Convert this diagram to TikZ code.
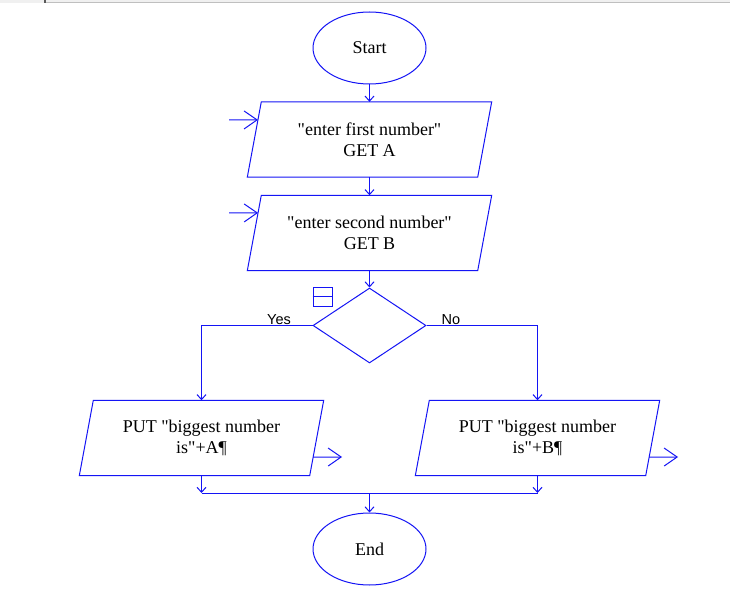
\documentclass[tikz,border=0pt]{standalone}
\usepackage{fontspec}
\setmainfont{Liberation Serif}
\newfontfamily\boxfont{Liberation Serif}
\newfontfamily\lblfont{Liberation Sans}
\usetikzlibrary{shapes.geometric,arrows.meta,calc}
\definecolor{fc}{RGB}{20,20,245}
\begin{document}
\begin{tikzpicture}[x=1pt,y=-1pt,
  shapeline/.style={draw=fc, line width=1pt},
  conn/.style={draw=fc, line width=1pt, -{Straight Barb[length=5pt,width=9pt]}},
  ioarrow/.style={draw=fc, line width=1pt, -{Straight Barb[length=13pt,width=18pt]}},
  boxtext/.style={font=\boxfont\fontsize{18}{21}\selectfont, align=center, text=black},
  para/.style={rectangle, minimum width=230pt, minimum height=75pt, inner sep=0pt, boxtext},
  term/.style={ellipse, draw=fc, line width=1pt, minimum width=113pt, minimum height=72pt, inner sep=0pt, boxtext},
  lbl/.style={font=\lblfont\fontsize{14.5}{16}\selectfont, anchor=base, inner sep=0pt, text=black}]
\useasboundingbox (0,0) rectangle (730,609);
\fill[white] (0,0) rectangle (730,609);
% top strip
\fill[black!6] (0,0) rectangle (730,3);
\draw[black!25, line width=0.8pt] (46,2) -- (730,2);
\draw[black!65, line width=1.2pt] (45,0) -- (45,3.2);

% terminals
\node[term] (start) at (369.5,48) {Start};
\node[term] (end) at (369.5,549) {End};

% parallelograms (text nodes, outlines drawn below)
\node[para] (p1) at (369.5,139.5) {"enter first number"\\GET A};
\node[para] (p2) at (369.5,233) {"enter second number"\\GET B};
\node[para] (p3) at (201.5,438) {PUT "biggest number\\is"+A¶};
\node[para] (p4) at (537.5,438) {PUT "biggest number\\is"+B¶};
\foreach \n in {p1,p2,p3,p4}{
  \draw[shapeline] ([xshift=7pt]\n.north west) coordinate (\n tl)
    -- ([xshift=7pt]\n.north east) coordinate (\n tr)
    -- ([xshift=-7pt]\n.south east) coordinate (\n br)
    -- ([xshift=-7pt]\n.south west) coordinate (\n bl) -- cycle;
}

% decision
\node[diamond, draw=fc, line width=1pt, minimum width=113pt, minimum height=75pt, inner sep=0pt] (dec) at (369.5,325.5) {};
\node[draw=fc, line width=1pt, minimum width=19pt, minimum height=18pt, inner sep=0pt] (flag) at (322.5,297) {};
\draw[shapeline] (flag.west) -- (flag.east);

% labels
\node[lbl] (yes) at (279,324) {Yes};
\node[lbl] (no) at (451,324) {No};

% connectors
\draw[conn] (start.south) -- (start.south |- p1.north);
\draw[conn] (p1.south) -- (p1.south |- p2.north);
\draw[conn] (p2.south) -- (p2.south |- dec.north);
\draw[conn] (dec.west) -| (p3.north);
\draw[conn] (dec.east) -| (p4.north);

\coordinate (m) at (369.5,493);
\coordinate (ml) at (p3.south |- m);
\coordinate (mr) at (p4.south |- m);
\draw[conn] (p3.south) -- (ml);
\draw[conn] (p4.south) -- (mr);
\draw[shapeline] (ml) -- (mr);
\draw[conn] (m) -- (end.north);

% input / output arrows
\coordinate (in1) at (229,120);
\coordinate (in2) at (229,213);
\coordinate (out1) at (342,457);
\coordinate (out2) at (678,457);
\draw[ioarrow] (in1) -- ($(p1tl)!0.24!(p1bl)$);
\draw[ioarrow] (in2) -- ($(p2tl)!0.233!(p2bl)$);
\draw[ioarrow] ($(p3tr)!0.753!(p3br)$) -- (out1);
\draw[ioarrow] ($(p4tr)!0.753!(p4br)$) -- (out2);
\end{tikzpicture}
\end{document}
